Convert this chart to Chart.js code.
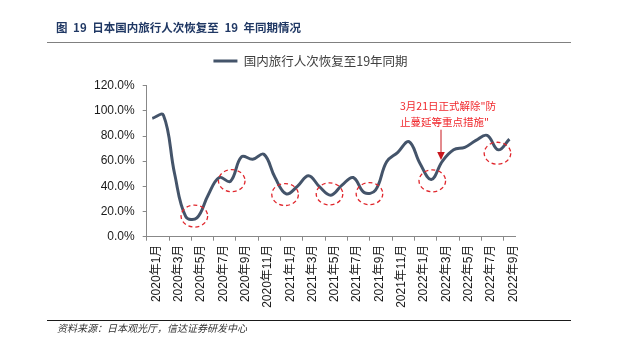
<!DOCTYPE html>
<html>
<head>
<meta charset="utf-8">
<script src="https://cdn.jsdelivr.net/npm/chart.js@4/dist/chart.umd.min.js"></script>
<style>
  html, body { margin: 0; padding: 0; background: #ffffff; }
  #wrap { position: relative; width: 618px; height: 357px; overflow: hidden; background: #fff; }
  #c { position: absolute; left: 0; top: 0; }
  .title { position: absolute; left: 56px; top: 20px; font-family: 'Noto Sans CJK SC', sans-serif; font-weight: bold; font-size: 11.5px; line-height: 15px; word-spacing: 3px; color: #203864; white-space: pre; }
  .rule-top { position: absolute; left: 47px; top: 42px; width: 524px; height: 0; border-top: 1.5px solid #808080; }
  .rule-bot { position: absolute; left: 47px; top: 319.5px; width: 524px; height: 0; border-top: 1.5px solid #1a1a1a; }
  .source { position: absolute; left: 57px; top: 321px; font-family: 'Noto Sans CJK SC', sans-serif; font-style: italic; font-size: 10px; line-height: 14px; color: #333; white-space: pre; }
</style>
</head>
<body>
<div id="wrap">
  <canvas id="c" width="618" height="357"></canvas>
  <div class="title">图 19 日本国内旅行人次恢复至 19 年同期情况</div>
  <div class="rule-top"></div>
  <div class="rule-bot"></div>
  <div class="source">资料来源：日本观光厅，信达证券研发中心</div>
</div>
<script>
// ---- data ----
const months = [
  '2020年1月','2020年2月','2020年3月','2020年4月','2020年5月','2020年6月',
  '2020年7月','2020年8月','2020年9月','2020年10月','2020年11月','2020年12月',
  '2021年1月','2021年2月','2021年3月','2021年4月','2021年5月','2021年6月',
  '2021年7月','2021年8月','2021年9月','2021年10月','2021年11月','2021年12月',
  '2022年1月','2022年2月','2022年3月','2022年4月','2022年5月','2022年6月',
  '2022年7月','2022年8月','2022年9月'
];
const recoveryPct = [
  94, 96.5, 50, 16, 15, 33,
  47, 44, 63.5, 61.5, 65.5, 47,
  34, 40, 48.5, 39.5, 33, 41,
  47, 35, 37, 59.5, 67, 75.5,
  58, 45.5, 60, 69, 71, 76.5,
  80.5, 69, 77.5
];
const seriesName = '国内旅行人次恢复至19年同期';
const yTicks = [0, 20, 40, 60, 80, 100, 120];
// annotation anchors in data coordinates: [category index, value]
const circleAnchors = [[3.77, 16.4], [7.12, 44.5], [11.9, 33.5], [15.88, 34], [19.46, 34.2], [25.09, 44.4], [30.93, 66.3]];
const noteLines = ['3月21日正式解除"防', '止蔓延等重点措施"'];
const noteAnchor = [22.2, 104.1, 90.9];      // index, line1 value, line2 value
const arrowAnchor = [25.87, 85, 61];         // index, start value, tip value

const lineColor = '#44546a';
const axisColor = '#888888';
const tickFont = { family: "'Liberation Sans', 'Noto Sans CJK SC', sans-serif", size: 12 };

const annotPlugin = {
  id: 'annot',
  beforeLayout(chart) {
    const lg = chart.legend;
    if (lg && !lg._patched) {
      const orig = lg.fit;
      lg.fit = function () { orig.call(this); this.height += 8.4; };
      lg._patched = true;
    }
  },
  afterLayout(chart) {
    const lg = chart.legend;
    if (lg) { lg.left = 3; lg.right = 618; }
  },
  afterDatasetsDraw(chart) {
    const { ctx, scales: { x, y } } = chart;
    ctx.save();
    // dashed ellipses
    ctx.strokeStyle = '#e0262c';
    ctx.lineWidth = 1.3;
    ctx.setLineDash([4, 3]);
    circleAnchors.forEach(([i, v]) => {
      ctx.beginPath();
      ctx.ellipse(x.getPixelForValue(i), y.getPixelForValue(v), 13.3, 11, 0, 0, Math.PI * 2);
      ctx.stroke();
    });
    ctx.setLineDash([]);
    // arrow
    const ax = x.getPixelForValue(arrowAnchor[0]);
    const ay0 = y.getPixelForValue(arrowAnchor[1]);
    const ay1 = y.getPixelForValue(arrowAnchor[2]);
    ctx.strokeStyle = '#c8161d';
    ctx.fillStyle = '#c8161d';
    ctx.lineWidth = 1;
    ctx.beginPath();
    ctx.moveTo(ax, ay0);
    ctx.lineTo(ax, ay1 - 7);
    ctx.stroke();
    ctx.beginPath();
    ctx.moveTo(ax - 3.8, ay1 - 8);
    ctx.lineTo(ax + 3.8, ay1 - 8);
    ctx.lineTo(ax, ay1);
    ctx.closePath();
    ctx.fill();
    // note text
    ctx.fillStyle = '#f0282d';
    ctx.font = "10.5px 'Noto Sans CJK SC', sans-serif";
    ctx.textAlign = 'left';
    ctx.textBaseline = 'middle';
    const nx = x.getPixelForValue(noteAnchor[0]);
    ctx.fillText(noteLines[0], nx, y.getPixelForValue(noteAnchor[1]));
    ctx.fillText(noteLines[1], nx, y.getPixelForValue(noteAnchor[2]));
    ctx.restore();
  }
};

new Chart(document.getElementById('c'), {
  type: 'line',
  data: {
    labels: months,
    datasets: [{
      label: seriesName,
      data: recoveryPct,
      borderColor: lineColor,
      backgroundColor: lineColor,
      borderWidth: 3,
      pointRadius: 0,
      pointHoverRadius: 0,
      tension: 0.4,
      fill: false
    }]
  },
  options: {
    responsive: false,
    animation: false,
    events: [],
    layout: { padding: { left: 0, right: 103, top: 44.75, bottom: 0 } },
    plugins: {
      tooltip: { enabled: false },
      legend: {
        display: true,
        position: 'top',
        align: 'center',
        labels: {
          boxWidth: 24,
          boxHeight: 3,
          padding: 10,
          color: '#404040',
          font: { family: "'Noto Sans CJK SC', sans-serif", size: 12.5 },
          generateLabels(chart) {
            const items = Chart.defaults.plugins.legend.labels.generateLabels(chart);
            items.forEach(it => { it.lineWidth = 0; it.fillStyle = lineColor; it.strokeStyle = lineColor; });
            return items;
          }
        }
      }
    },
    scales: {
      x: {
        type: 'category',
        offset: true,
        afterFit(scale) { scale.height = 120.3; },
        grid: {
          display: true,
          offset: true,
          drawOnChartArea: false,
          drawTicks: true,
          tickLength: 4,
          color: (c) => (c.index % 2 === 0 ? axisColor : 'rgba(0,0,0,0)'),
          lineWidth: 1
        },
        border: { display: true, color: axisColor, width: 1 },
        ticks: {
          autoSkip: false,
          maxRotation: 90,
          minRotation: 90,
          padding: 4,
          labelOffset: 4,
          color: '#1a1a1a',
          font: tickFont,
          callback(val, idx) { return idx % 2 === 0 ? this.getLabelForValue(val) : ''; }
        }
      },
      y: {
        min: 0,
        max: 120,
        afterFit(scale) { scale.width = 146.7; },
        afterBuildTicks(scale) { scale.ticks = yTicks.map(v => ({ value: v })); },
        grid: {
          display: true,
          drawOnChartArea: false,
          drawTicks: true,
          tickLength: 4,
          color: axisColor
        },
        border: { display: true, color: axisColor, width: 1 },
        ticks: {
          padding: 8,
          color: '#1a1a1a',
          font: tickFont,
          callback(v) { return v.toFixed(1) + '%'; }
        }
      }
    }
  },
  plugins: [annotPlugin]
});
</script>
</body>
</html>
